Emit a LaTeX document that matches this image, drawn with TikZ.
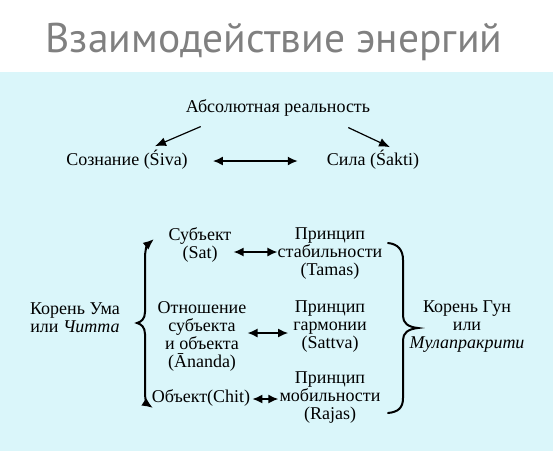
\documentclass[tikz,border=0pt]{standalone}
\usepackage{fontspec}
\setmainfont{Liberation Serif}
\newfontfamily\titlefont{PT Sans}
\usetikzlibrary{arrows.meta}
\definecolor{bgcyan}{RGB}{218,246,250}
\definecolor{titlegray}{RGB}{128,128,128}

\begin{document}
\begin{tikzpicture}[
  x=1pt, y=-1pt,
  txt/.style={align=center, inner sep=1pt, font=\fontsize{18}{18}\selectfont},
  ttl/.style={font=\titlefont\fontsize{41.5}{44}\selectfont, text=titlegray, inner sep=0pt},
  arr/.style={{Latex[length=10pt,width=9pt]}-{Latex[length=10pt,width=9pt]}, line width=1.6pt},
  one/.style={-{Latex[length=11pt,width=9pt]}, line width=1.2pt},
  brc/.style={line width=2pt, line cap=round},
]
\useasboundingbox (0,0) rectangle (553,451);
\fill[white] (0,0) rectangle (553,72);
\fill[bgcyan] (0,72) rectangle (553,451);
% ---------------- title ----------------
\node[ttl] (title) at (274,42) {Взаимодействие энергий};
% ---------------- upper part ----------------
\node[txt] (abs) at (278,108) {Абсолютная реальность};
\node[txt] (siva) at (127,160) {Сознание (Śiva)};
\node[txt] (sakti) at (373,160) {Сила (Śakti)};
\draw[one] ([shift={(16,9)}]abs.south west) -- ([shift={(28,-3)}]siva.north);
\draw[one] ([shift={(-23,10)}]abs.south east) -- ([shift={(17,-2)}]sakti.north);
\draw[arr, shorten <=24pt, shorten >=28pt] ([shift={(0,1)}]siva.east) -- ([shift={(0,1)}]sakti.west);
% ---------------- lower part ----------------
\node[txt] (sat) at (200,245) {Субъект\\(Sat)};
\node[txt] (tamas) at (330,254) {Принцип\\стабильности\\(Tamas)};
\node[txt] (ananda) at (202,336) {Отношение\\субъекта\\и объекта\\(Ānanda)};
\node[txt] (sattva) at (330,327) {Принцип\\гармонии\\(Sattva)};
\node[txt] (chit) at (201,398) {Объект(Chit)};
\node[txt] (rajas) at (330,398) {Принцип\\мобильности\\(Rajas)};
\node[txt] (uma) at (75,318) {Корень Ума\\или \textit{Читта}};
\node[txt] (gun) at (467,327) {Корень Гун\\или\\\textit{Мулапракрити}};
\draw[arr] ([shift={(1,7)}]sat.east) -- ([shift={(1,7)}]sat.east -| tamas.west);
\draw[arr] ([shift={(0,-3)}]ananda.east) -- ([shift={(-4,-3)}]ananda.east -| sattva.west);
\draw[arr] ([shift={(1,1)}]chit.east) -- ([shift={(0,1)}]chit.east -| rajas.west);
% braces
\draw[brc, {Latex[length=11pt,width=9pt]}-{Latex[length=11pt,width=9pt]}]
  (154,239) .. controls (147,245) and (145,250) .. (145,258) -- (145,312)
  .. controls (145,319) and (141,322) .. (137,323)
  .. controls (141,324) and (145,327) .. (145,334) -- (145,392)
  .. controls (145,400) and (147,404) .. (153,408);
\draw[brc]
  (388,243) .. controls (398,244) and (403,250) .. (403,260) -- (403,316)
  .. controls (403,323) and (408,327) .. (418,328)
  .. controls (408,329) and (403,333) .. (403,340) -- (403,398)
  .. controls (403,408) and (398,412) .. (388,413);
\end{tikzpicture}
\end{document}
